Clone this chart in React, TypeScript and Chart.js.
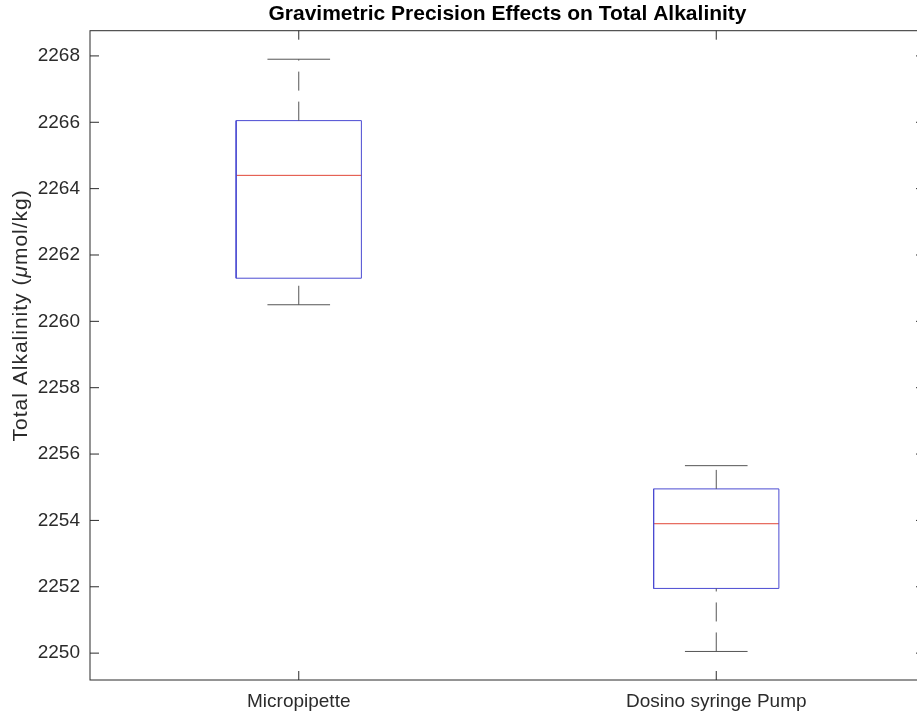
import React, { useEffect, useRef } from 'react';
import { Chart, registerables } from 'chart.js';

Chart.register(...registerables);

// ---- data ----
const categories = ['Micropipette', 'Dosino syringe Pump'];
const positions = [1, 2];
const whiskerHigh = [2267.9, 2255.65];
const upperQuartile = [2266.05, 2254.95];
const medians = [2264.4, 2253.9];
const lowerQuartile = [2261.3, 2251.95];
const whiskerLow = [2260.5, 2250.05];
const yTicks = [2250, 2252, 2254, 2256, 2258, 2260, 2262, 2264, 2266, 2268];
const yLimits = [2249.19, 2268.76];
const xLimits = [0.5, 2.5];

const TITLE = 'Gravimetric Precision Effects on Total Alkalinity';
const YLABEL_PARTS = [
  { text: 'Total Alkalinity (', italic: false },
  { text: 'μ', italic: true },
  { text: 'mol/kg)', italic: false },
];

// ---- styles ----
const FONT = '"Liberation Sans", Arial, Helvetica, sans-serif';
const AXIS_COLOR = '#2b2b2b';
const BOX_COLOR = 'rgb(75,75,210)';
const MEDIAN_COLOR = 'rgb(225,70,55)';
const WHISKER_COLOR = '#555555';
const BOX_HALF = 0.15;
const CAP_HALF = 0.075;
const CANVAS_W = 935;
const CANVAS_H = 712;
const TICK_LEN = 9;

function line(points: { x: number; y: number }[], color: string, dash: number[] = []) {
  return {
    data: points,
    showLine: true,
    borderColor: color,
    backgroundColor: color,
    borderWidth: 1,
    borderDash: dash,
    pointRadius: 0,
    pointHoverRadius: 0,
    fill: false,
    tension: 0,
  };
}

function buildDatasets() {
  const ds: any[] = [];
  positions.forEach((p, i) => {
    // whiskers (dashed), drawn upward like the reference
    ds.push(line([{ x: p, y: upperQuartile[i] }, { x: p, y: whiskerHigh[i] }], WHISKER_COLOR, [19, 11]));
    ds.push(line([{ x: p, y: whiskerLow[i] }, { x: p, y: lowerQuartile[i] }], WHISKER_COLOR, [19, 11]));
    // caps
    ds.push(line([{ x: p - CAP_HALF, y: whiskerHigh[i] }, { x: p + CAP_HALF, y: whiskerHigh[i] }], WHISKER_COLOR));
    ds.push(line([{ x: p - CAP_HALF, y: whiskerLow[i] }, { x: p + CAP_HALF, y: whiskerLow[i] }], WHISKER_COLOR));
    // box
    ds.push(
      line(
        [
          { x: p - BOX_HALF, y: lowerQuartile[i] },
          { x: p + BOX_HALF, y: lowerQuartile[i] },
          { x: p + BOX_HALF, y: upperQuartile[i] },
          { x: p - BOX_HALF, y: upperQuartile[i] },
          { x: p - BOX_HALF, y: lowerQuartile[i] },
        ],
        BOX_COLOR
      )
    );
    // median
    ds.push(line([{ x: p - BOX_HALF, y: medians[i] }, { x: p + BOX_HALF, y: medians[i] }], MEDIAN_COLOR));
  });
  return ds;
}

const framePlugin = {
  id: 'matlabFrame',
  afterDraw(chart: any) {
    const { ctx, chartArea: a, scales } = chart;
    const xs = scales.x;
    const ys = scales.y;
    ctx.save();
    ctx.strokeStyle = AXIS_COLOR;
    ctx.lineWidth = 1;
    ctx.strokeRect(a.left, a.top, a.right - a.left, a.bottom - a.top);
    const L = TICK_LEN;
    ctx.beginPath();
    yTicks.forEach((v) => {
      const py = ys.getPixelForValue(v);
      ctx.moveTo(a.left, py);
      ctx.lineTo(a.left + L, py);
      ctx.moveTo(a.right, py);
      ctx.lineTo(a.right - L, py);
    });
    positions.forEach((v) => {
      const px = xs.getPixelForValue(v);
      ctx.moveTo(px, a.bottom);
      ctx.lineTo(px, a.bottom - L);
      ctx.moveTo(px, a.top);
      ctx.lineTo(px, a.top + L);
    });
    ctx.stroke();

    // y-axis label with italic mu
    const size = 21;
    const normal = `${size}px ${FONT}`;
    const italic = `italic ${size}px ${FONT}`;
    try {
      (ctx as any).letterSpacing = '1px';
    } catch (e) {
      /* ignore */
    }
    let total = 0;
    const widths = YLABEL_PARTS.map((pt) => {
      ctx.font = pt.italic ? italic : normal;
      const w = ctx.measureText(pt.text).width;
      total += w;
      return w;
    });
    const cy = (a.top + a.bottom) / 2 - 40;
    ctx.translate(21, cy);
    ctx.rotate(-Math.PI / 2);
    ctx.fillStyle = AXIS_COLOR;
    ctx.textBaseline = 'middle';
    ctx.textAlign = 'left';
    let x0 = -total / 2;
    YLABEL_PARTS.forEach((pt, i) => {
      ctx.font = pt.italic ? italic : normal;
      ctx.fillText(pt.text, x0, 0);
      x0 += widths[i];
    });
    try {
      (ctx as any).letterSpacing = '0px';
    } catch (e) {
      /* ignore */
    }
    ctx.restore();
  },
};

export default function App() {
  const ref = useRef<HTMLCanvasElement | null>(null);

  useEffect(() => {
    if (!ref.current) return;
    const chart = new Chart(ref.current, {
      type: 'scatter',
      data: { datasets: buildDatasets() },
      options: {
        responsive: false,
        animation: false,
        devicePixelRatio: 1,
        layout: { padding: { left: 0, right: 10, top: 0, bottom: 0 } },
        plugins: {
          legend: { display: false },
          tooltip: { enabled: false },
          title: {
            display: true,
            text: TITLE,
            fullSize: false,
            color: '#000',
            font: { family: FONT, size: 21, weight: 'bold', lineHeight: 1.2 },
            padding: { top: 1.5, bottom: 4 },
          },
        },
        scales: {
          x: {
            type: 'linear',
            min: xLimits[0],
            max: xLimits[1],
            afterBuildTicks: (s: any) => {
              s.ticks = positions.map((v) => ({ value: v }));
            },
            afterFit: (s: any) => {
              s.height = 32;
            },
            ticks: {
              autoSkip: false,
              maxRotation: 0,
              padding: 10,
              color: AXIS_COLOR,
              font: { family: FONT, size: 19 },
              callback: (v: any) => {
                const i = positions.indexOf(Number(v));
                return i >= 0 ? categories[i] : '';
              },
            },
            grid: { display: false, drawTicks: false },
            border: { display: false },
          },
          y: {
            type: 'linear',
            min: yLimits[0],
            max: yLimits[1],
            afterBuildTicks: (s: any) => {
              s.ticks = yTicks.map((v) => ({ value: v }));
            },
            afterFit: (s: any) => {
              s.width = 90;
            },
            ticks: {
              padding: 10,
              color: AXIS_COLOR,
              font: { family: FONT, size: 19 },
              callback: (v: any) => String(v),
            },
            grid: { display: false, drawTicks: false },
            border: { display: false },
          },
        },
      } as any,
      plugins: [framePlugin],
    });
    return () => chart.destroy();
  }, []);

  return (
    <div
      style={{
        position: 'fixed',
        left: 0,
        top: 0,
        width: 917,
        height: 712,
        overflow: 'hidden',
        background: '#fff',
      }}
    >
      <canvas
        ref={ref}
        width={CANVAS_W}
        height={CANVAS_H}
        style={{ display: 'block', width: CANVAS_W, height: CANVAS_H }}
      />
    </div>
  );
}
